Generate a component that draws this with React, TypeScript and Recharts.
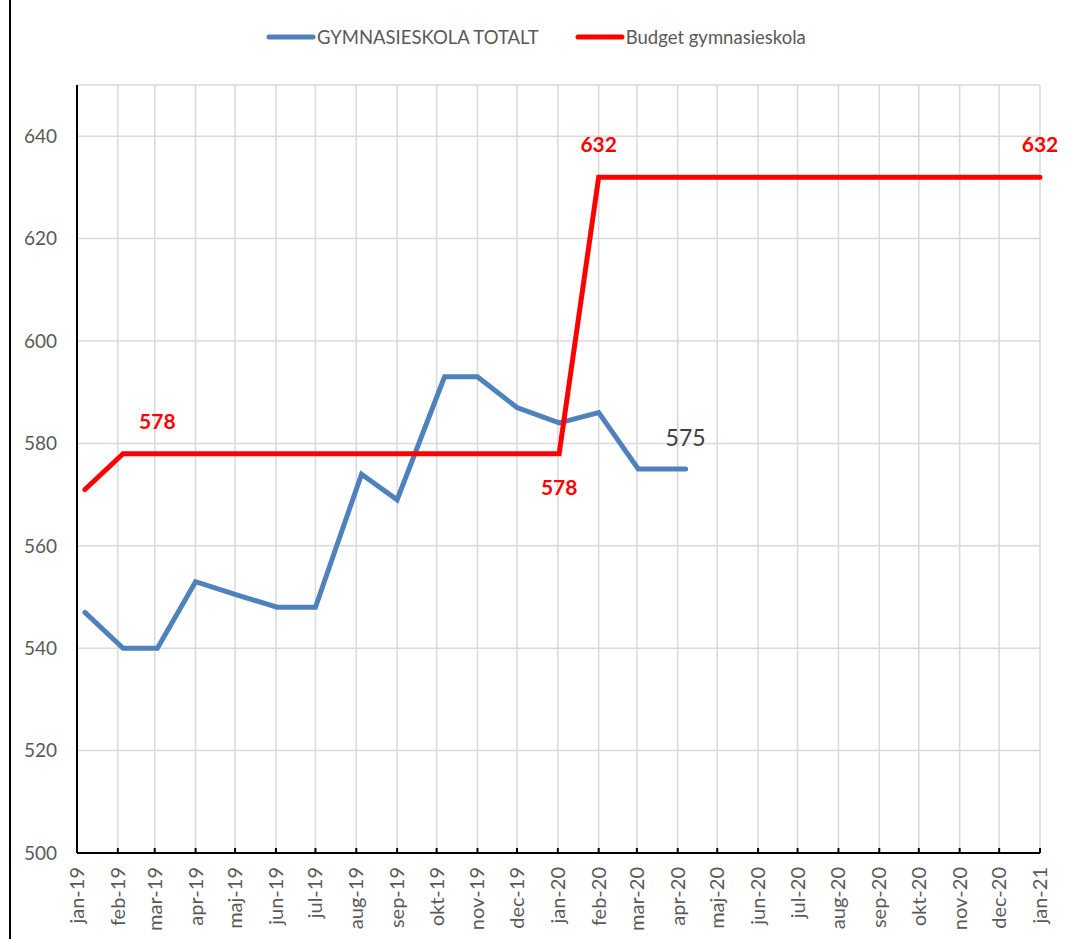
import { CartesianGrid, LabelList, Legend, Line, LineChart, XAxis, YAxis } from 'recharts';

const pointDates = [
  '2019-01-07', '2019-02-05', '2019-03-03', '2019-04-01', '2019-05-01', '2019-06-02',
  '2019-07-01', '2019-08-05', '2019-09-01', '2019-10-07', '2019-11-01', '2019-12-01',
  '2020-01-02', '2020-02-01', '2020-03-02', '2020-04-07', '2020-05-01', '2020-06-01',
  '2020-07-01', '2020-08-01', '2020-09-01', '2020-10-01', '2020-11-01', '2020-12-01',
  '2021-01-01'
];
const totalt = [547, 540, 540, 553, 550.5, 548, 548, 574, 569, 593, 593, 587, 584, 586, 575, 575];
const budget = [
  571, 578, 578, 578, 578, 578, 578, 578, 578, 578, 578, 578, 578,
  632, 632, 632, 632, 632, 632, 632, 632, 632, 632, 632, 632
];

const monthDates = [
  '2019-01-01', '2019-02-01', '2019-03-01', '2019-04-01', '2019-05-01', '2019-06-01',
  '2019-07-01', '2019-08-01', '2019-09-01', '2019-10-01', '2019-11-01', '2019-12-01',
  '2020-01-01', '2020-02-01', '2020-03-01', '2020-04-01', '2020-05-01', '2020-06-01',
  '2020-07-01', '2020-08-01', '2020-09-01', '2020-10-01', '2020-11-01', '2020-12-01',
  '2021-01-01'
];
const monthLabels = [
  'jan-19', 'feb-19', 'mar-19', 'apr-19', 'maj-19', 'jun-19', 'jul-19', 'aug-19', 'sep-19',
  'okt-19', 'nov-19', 'dec-19', 'jan-20', 'feb-20', 'mar-20', 'apr-20', 'maj-20', 'jun-20',
  'jul-20', 'aug-20', 'sep-20', 'okt-20', 'nov-20', 'dec-20', 'jan-21'
];
const yTicks = [500, 520, 540, 560, 580, 600, 620, 640];
const seriesNames = ['GYMNASIESKOLA TOTALT', 'Budget gymnasieskola'];

// which points carry a data label
const budgetLabelsAbove = [2, 13, 24];
const budgetLabelsBelow = [12];
const totaltLabels = [15];

const toTime = (d: string) => new Date(d + 'T00:00:00Z').getTime();

const data = pointDates.map((d, i) => ({
  t: toTime(d),
  totalt: i < totalt.length ? totalt[i] : null,
  budget: budget[i]
}));

const monthTicks = monthDates.map(toTime);
const labelFor = new Map(monthTicks.map((t, i) => [t, monthLabels[i]]));

const FONT = 'Lato, "Open Sans", sans-serif';

const MonthTick = (props: any) => {
  const { x, y, payload } = props;
  return (
    <g>
      <line x1={x} y1={y} x2={x} y2={y - 5} stroke="#000" strokeWidth={2} />
      <text
        transform={`translate(${x + 7},${y + 14}) rotate(-90)`}
        textAnchor="end"
        fontFamily={FONT}
        fontSize={20}
        fill="#595959"
      >
        {labelFor.get(payload.value)}
      </text>
    </g>
  );
};

const BudgetLabel = (props: any) => {
  const { x, y, value, index } = props;
  let dy = 0;
  if (budgetLabelsAbove.includes(index)) dy = -25;
  else if (budgetLabelsBelow.includes(index)) dy = 41;
  else return null;
  return (
    <text x={x} y={y + dy} textAnchor="middle" fontFamily={FONT} fontWeight={700} fontSize={21} fill="#FF0000">
      {value}
    </text>
  );
};

const TotaltLabel = (props: any) => {
  const { x, y, value, index } = props;
  if (!totaltLabels.includes(index)) return null;
  return (
    <text x={x} y={y - 23} textAnchor="middle" fontFamily={FONT} fontSize={23} fill="#404040">
      {value}
    </text>
  );
};

const renderLegend = (props: any) => {
  const items = [...(props.payload || [])].sort(
    (a: any, b: any) => seriesNames.indexOf(a.value) - seriesNames.indexOf(b.value)
  );
  return (
    <div style={{ display: 'flex', alignItems: 'center', paddingLeft: 266, fontFamily: FONT, fontSize: 18.5, color: '#595959' }}>
      {items.map((item: any, i: number) => (
        <div key={i} style={{ display: 'flex', alignItems: 'center', marginRight: 36 }}>
          <svg width={50} height={8}>
            <line x1={3} y1={4} x2={47} y2={4} stroke={item.color} strokeWidth={5} strokeLinecap="round" />
          </svg>
          <span style={{ marginLeft: 1 }}>{item.value}</span>
        </div>
      ))}
    </div>
  );
};

export default function App() {
  return (
    <div style={{ position: 'absolute', left: 0, top: 0, width: 1065, height: 939, background: '#fff' }}>
      <div style={{ position: 'absolute', left: 9, top: 0, width: 0, height: 939, borderLeft: '2px solid #000' }} />
      <LineChart width={1065} height={939} data={data} margin={{ top: 85, right: 25, bottom: 0, left: 0 }}>
        <CartesianGrid stroke="#D9D9D9" strokeWidth={1.5} />
        <XAxis
          dataKey="t"
          type="number"
          domain={[monthTicks[0], monthTicks[monthTicks.length - 1]]}
          ticks={monthTicks}
          interval={0}
          height={86}
          tickSize={0}
          tickMargin={0}
          tick={<MonthTick />}
          axisLine={{ stroke: '#000', strokeWidth: 2 }}
          tickLine={false}
        />
        <YAxis
          domain={[500, 650]}
          ticks={yTicks}
          width={77}
          axisLine={{ stroke: '#000', strokeWidth: 2 }}
          tickLine={false}
          tickSize={0}
          tickMargin={20}
          tick={{ fill: '#595959', fontSize: 19, fontFamily: FONT }}
        />
        <Legend
          verticalAlign="middle"
          align="center"
          layout="horizontal"
          wrapperStyle={{ top: 26, left: 0, width: 1065 }}
          content={renderLegend}
        />
        <Line
          name={seriesNames[0]}
          dataKey="totalt"
          stroke="#4F81BD"
          strokeWidth={5}
          strokeLinecap="round"
          dot={false}
          activeDot={false}
          isAnimationActive={false}
        >
          <LabelList dataKey="totalt" content={<TotaltLabel />} />
        </Line>
        <Line
          name={seriesNames[1]}
          dataKey="budget"
          stroke="#FF0000"
          strokeWidth={5}
          strokeLinecap="round"
          dot={false}
          activeDot={false}
          isAnimationActive={false}
        >
          <LabelList dataKey="budget" content={<BudgetLabel />} />
        </Line>
      </LineChart>
    </div>
  );
}
